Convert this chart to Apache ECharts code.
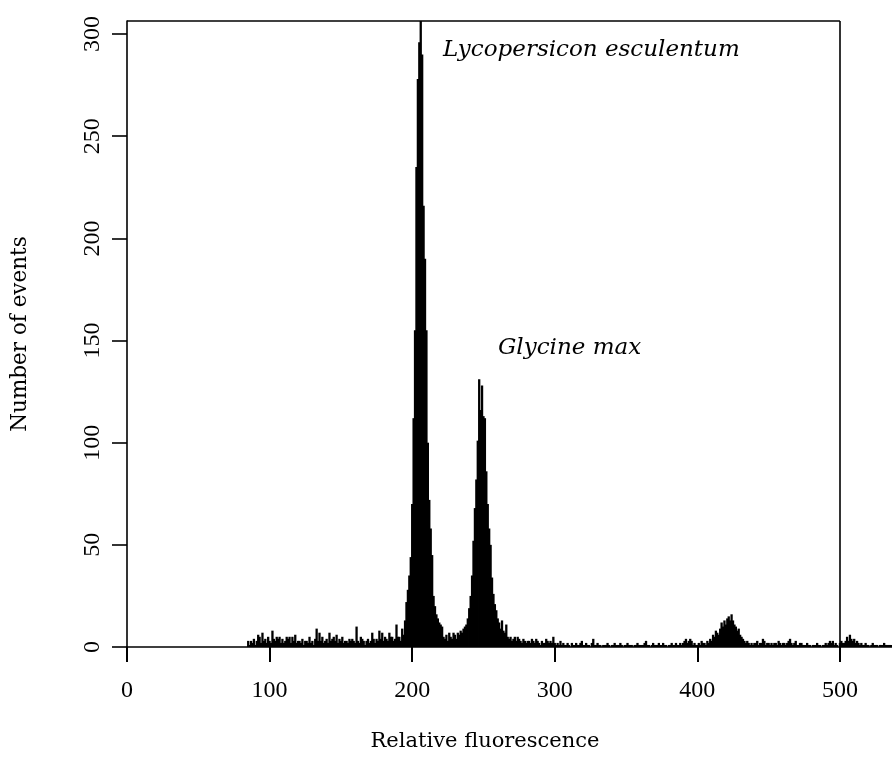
<!DOCTYPE html>
<html><head><meta charset="utf-8">
<script src="https://cdn.jsdelivr.net/npm/echarts@6/dist/echarts.min.js"></script>
<style>html,body{margin:0;padding:0;background:#fff}#c{width:892px;height:768px}</style>
</head><body><div id="c"></div>
<script>
// Tick labels
const xTicks = [0, 100, 200, 300, 400, 500];
const yTicks = [0, 50, 100, 150, 200, 250, 300];
// Histogram: relative fluorescence channels starting at 85, counts per channel
const firstChannel = 85;
const counts = [
  // 85-194 background debris
  3,1,3,2,4,1,3,6,5,2,
  7,3,4,2,5,3,2,8,4,3,
  5,4,5,2,4,2,3,5,4,5,
  2,5,3,6,2,3,3,2,4,1,
  3,3,2,5,2,3,1,4,9,3,
  7,3,5,2,3,4,2,7,3,4,
  5,3,6,2,4,3,5,2,3,3,
  2,4,3,4,3,2,10,3,2,5,
  4,3,1,3,4,2,3,7,4,2,
  4,3,8,4,7,3,5,4,3,7,
  5,5,3,4,11,5,5,3,9,6,
  // 195-234 Lycopersicon esculentum peak
  13,22,28,35,44,70,112,155,235,278,
  296,318,290,216,190,155,100,72,58,45,
  25,20,16,14,12,11,10,5,4,6,
  3,7,5,4,7,6,4,7,6,8,
  // 235-264 Glycine max peak
  7,9,10,11,14,19,25,35,52,68,
  82,101,131,116,128,113,112,86,70,58,
  50,34,26,21,18,14,12,9,13,8,
  // 265-404
  7,11,5,4,5,3,4,5,3,5,
  4,3,2,4,3,2,3,3,2,4,
  3,2,4,3,2,1,3,2,2,4,
  3,2,3,2,5,2,1,2,1,3,
  1,2,1,1,2,1,0,2,1,1,
  2,1,1,2,3,1,1,2,1,1,
  0,2,4,1,1,2,1,1,0,1,
  1,1,2,1,0,1,1,2,1,1,
  1,2,1,0,1,1,2,1,1,1,
  0,1,1,2,1,1,1,1,2,3,
  1,1,0,1,2,1,1,1,2,1,
  1,2,1,1,0,1,1,2,1,1,
  2,1,1,2,1,2,3,4,2,3,
  4,3,1,2,1,1,2,1,3,2,
  // 405-434 G2 bump
  2,1,3,2,4,3,6,5,8,7,
  6,9,12,10,13,11,14,15,13,16,
  13,11,10,8,9,6,5,4,3,2,
  // 435-536
  3,2,1,2,1,2,2,3,1,2,
  2,4,3,1,2,2,1,2,1,2,
  2,1,3,2,1,2,2,1,2,3,
  4,2,1,2,3,1,1,2,2,1,
  1,1,2,1,1,0,1,1,1,2,
  1,1,0,1,1,2,1,2,3,2,
  3,1,2,1,0,2,3,2,2,3,
  5,3,6,4,3,4,2,3,2,1,
  2,1,1,2,1,1,0,1,2,1,
  1,1,0,1,1,1,2,1,1,1,
  1,1
];
const xName = 'Relative fluorescence';
const yName = 'Number of events';
const peakLabels = ['Lycopersicon esculentum', 'Glycine max'];

const xMin = 0, xMax = 536.5, xFrame = 500;
const yMin = 0, yMax = 306.4;

const data = counts.map((v, i) => [firstChannel + i, v]);

const chart = echarts.init(document.getElementById('c'), null, {renderer: 'canvas'});
const tickFont = 'Liberation Serif';
const textFont = 'DejaVu Serif';
chart.setOption({
  animation: false,
  backgroundColor: '#fff',
  grid: {left: 127, top: 21, right: 0, height: 626, containLabel: false},
  xAxis: {
    type: 'value', min: xMin, max: xMax,
    axisLine: {show: true, onZero: false, lineStyle: {color: '#000', width: 1.6}},
    axisTick: {show: true, length: 15, inside: false, customValues: xTicks, lineStyle: {color: '#000', width: 2}},
    axisLabel: {show: true, margin: 32, customValues: xTicks, color: '#000', fontFamily: tickFont, fontSize: 24},
    splitLine: {show: false}
  },
  yAxis: {
    type: 'value', min: yMin, max: yMax,
    name: yName, nameLocation: 'middle', nameRotate: 90, nameGap: 96,
    nameTextStyle: {color: '#000', fontFamily: textFont, fontSize: 21.5},
    axisLine: {show: true, lineStyle: {color: '#000', width: 1.6}},
    axisTick: {show: true, length: 15, customValues: yTicks, lineStyle: {color: '#000', width: 1.6}},
    axisLabel: {show: true, rotate: 90, margin: 22, customValues: yTicks, color: '#000', fontFamily: tickFont, fontSize: 24},
    splitLine: {show: false}
  },
  series: [{
    type: 'bar',
    data: data,
    barWidth: 2.3,
    clip: true,
    itemStyle: {color: '#000'},
    silent: true,
    markLine: {
      silent: true, symbol: 'none', label: {show: false},
      lineStyle: {color: '#000', width: 1.6, type: 'solid'},
      data: [
        {xAxis: xFrame},
        [{coord: [xMin, yMax]}, {coord: [xFrame, yMax]}]
      ]
    }
  }],
  graphic: [
    {type: 'text', x: 443, y: 50, style: {text: peakLabels[0], font: 'italic 23px "DejaVu Serif"', fill: '#000', textVerticalAlign: 'middle'}},
    {type: 'text', x: 498, y: 348, style: {text: peakLabels[1], font: 'italic 23px "DejaVu Serif"', fill: '#000', textVerticalAlign: 'middle'}},
    {type: 'text', x: 485, y: 742, style: {text: xName, font: '21px "DejaVu Serif"', fill: '#000', textAlign: 'center', textVerticalAlign: 'middle'}}
  ]
});
</script>
</body></html>
